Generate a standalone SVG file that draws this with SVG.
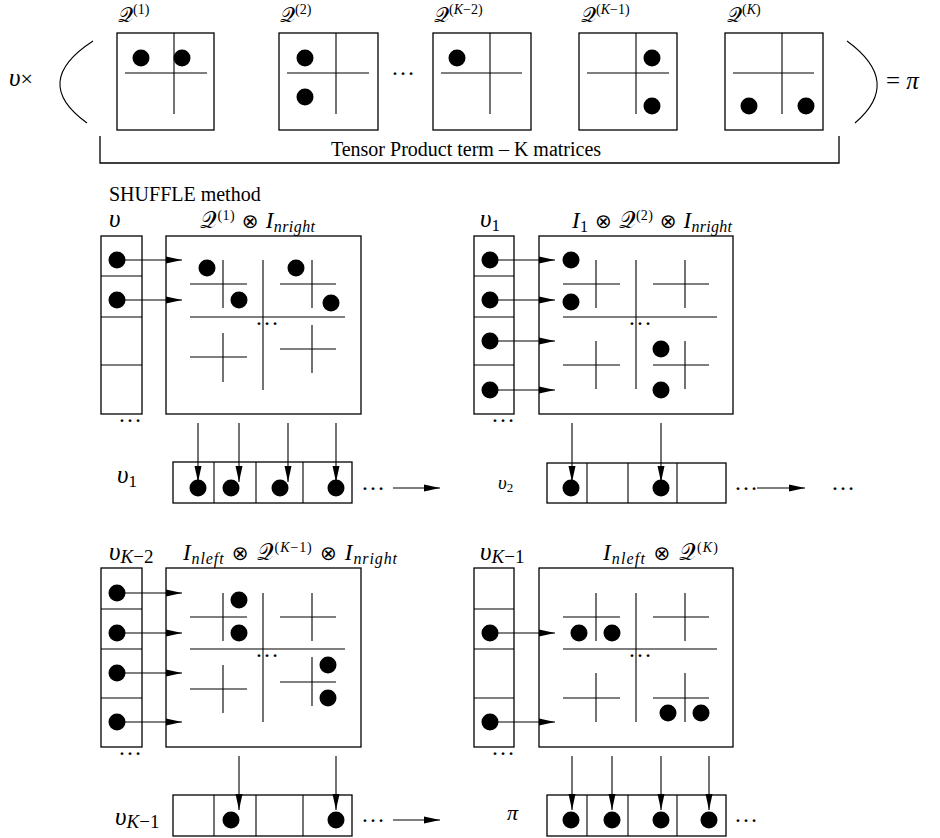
<svg xmlns="http://www.w3.org/2000/svg" width="940" height="838" viewBox="0 0 940 838">
<style>
.box{fill:none;stroke:#000;stroke-width:1.3}
.ln{fill:none;stroke:#000;stroke-width:1.1}
.ar{fill:none;stroke:#000;stroke-width:1.1;marker-end:url(#ah)}
.dot{fill:#000}
.t{font-family:"Liberation Serif",serif;font-size:20px;fill:#000}
.m{font-family:"Liberation Serif","DejaVu Serif",serif;font-size:23px;font-style:italic;fill:#000}
.v{font-family:"Liberation Serif","DejaVu Serif",serif;font-size:25px;font-style:italic;fill:#000}
.q{font-family:"DejaVu Serif","DejaVu Sans","Liberation Serif",serif;font-style:normal;font-size:1em}
.up{font-size:14px;font-style:normal}
.lo{font-size:16px}
.op{font-family:"DejaVu Sans",sans-serif;font-style:normal;font-size:20px}
.el{font-family:"Liberation Serif",serif;font-size:24px;text-anchor:middle;fill:#000}
</style>
<defs>
<marker id="ah" markerUnits="userSpaceOnUse" markerWidth="17" markerHeight="8" refX="16" refY="4" orient="auto"><path d="M0,0.5 L16,4 L0,7.5 z" fill="#000"/></marker>
</defs>

<g id="top-left-paren"><path class="ln" d="M93,41 Q30,82 87,123"/><text class="v" x="9" y="86">υ<tspan style="font-style:normal;font-size:22px">×</tspan></text></g>
<g id="top-right-paren"><path class="ln" d="M847,41 Q903,82 855,123"/><text class="t" x="886" y="89" style="font-size:25px">= <tspan font-style="italic">π</tspan></text></g>

<g id="Q1">
<text class="m" x="118" y="22" style="font-size:21px"><tspan class="q">𝒬</tspan><tspan class="up" dy="-8">(1)</tspan></text>
<rect class="box" x="117" y="33" width="97" height="97"/>
<path class="ln" d="M125,73H207M174,33V114"/>
<circle class="dot" cx="141" cy="58" r="8.5"/><circle class="dot" cx="182" cy="58" r="8.5"/>
</g>
<g id="Q2">
<text class="m" x="280" y="22" style="font-size:21px"><tspan class="q">𝒬</tspan><tspan class="up" dy="-8">(2)</tspan></text>
<rect class="box" x="279" y="33" width="99" height="97"/>
<path class="ln" d="M287,73H369M336,33V114"/>
<circle class="dot" cx="305" cy="58" r="8.5"/><circle class="dot" cx="305" cy="97" r="8.5"/>
</g>
<text class="el" x="403" y="75">…</text>
<g id="QK2">
<text class="m" x="434" y="22" style="font-size:21px"><tspan class="q">𝒬</tspan><tspan class="up" dy="-8">(<tspan font-style="italic">K</tspan>−2)</tspan></text>
<rect class="box" x="433" y="33" width="98" height="97"/>
<path class="ln" d="M441,73H522M490,33V114"/>
<circle class="dot" cx="457" cy="58" r="8.5"/>
</g>
<g id="QK1">
<text class="m" x="581" y="22" style="font-size:21px"><tspan class="q">𝒬</tspan><tspan class="up" dy="-8">(<tspan font-style="italic">K</tspan>−1)</tspan></text>
<rect class="box" x="579" y="33" width="98" height="97"/>
<path class="ln" d="M587,73H669M636,33V114"/>
<circle class="dot" cx="652" cy="58" r="8.5"/><circle class="dot" cx="652" cy="106" r="8.5"/>
</g>
<g id="QK">
<text class="m" x="727" y="22" style="font-size:21px"><tspan class="q">𝒬</tspan><tspan class="up" dy="-8">(<tspan font-style="italic">K</tspan>)</tspan></text>
<rect class="box" x="725" y="33" width="98" height="97"/>
<path class="ln" d="M733,73H814M782,33V114"/>
<circle class="dot" cx="749" cy="106" r="8.5"/><circle class="dot" cx="806" cy="106" r="8.5"/>
</g>
<g id="bracket">
<path class="box" d="M100,136V163H839V136"/>
<text class="t" x="466" y="156" text-anchor="middle">Tensor Product term – K matrices</text>
</g>

<text class="t" x="109" y="201">SHUFFLE method</text>

<!-- Panel 1 -->
<g id="p1-vec">
<text class="v" x="109" y="227">υ</text>
<rect class="box" x="101" y="236" width="41" height="178"/>
<path class="ln" d="M101,276H142M101,317H142M101,365H142"/>
<circle class="dot" cx="117" cy="260" r="8.5"/><circle class="dot" cx="117" cy="300" r="8.5"/>
<text class="el" x="130" y="422">…</text>
</g>
<g id="p1-mat">
<text class="m" x="200" y="228" textLength="115" lengthAdjust="spacing"><tspan class="q">𝒬</tspan><tspan class="up" dy="-8">(1)</tspan><tspan class="op" dy="8"> ⊗ </tspan>I<tspan class="lo" dy="4">nright</tspan></text>
<rect class="box" x="166" y="236" width="195" height="178"/>
<path class="ln" d="M190,317H345M263,260V390M190,284H247M223,260V308M280,284H336M312,260V308M190,357H247M223,333V382M280,349H336M312,325V373"/>
<circle class="dot" cx="207" cy="268" r="8.5"/><circle class="dot" cx="239" cy="300" r="8.5"/><circle class="dot" cx="296" cy="268" r="8.5"/><circle class="dot" cx="331" cy="303" r="8.5"/>
<text class="el" x="267" y="325">…</text>
</g>
<g id="p1-out">
<text class="v" x="117" y="483">υ<tspan class="lo" style="font-style:normal;font-size:17px" dy="4">1</tspan></text>
<rect class="box" x="173" y="462" width="179" height="41"/>
<path class="ln" d="M214,462V503M256,462V503M303,462V503"/>
<circle class="dot" cx="198" cy="488" r="8.5"/><circle class="dot" cx="231" cy="488" r="8.5"/><circle class="dot" cx="280" cy="488" r="8.5"/><circle class="dot" cx="336" cy="488" r="8.5"/>
<text class="el" x="373" y="490">…</text>
</g>

<!-- Panel 2 -->
<g id="p2-vec">
<text class="v" x="480" y="227">υ<tspan class="lo" style="font-style:normal;font-size:17px" dy="4">1</tspan></text>
<rect class="box" x="474" y="236" width="40" height="178"/>
<path class="ln" d="M474,276H514M474,317H514M474,365H514"/>
<circle class="dot" cx="490" cy="260" r="8.5"/><circle class="dot" cx="490" cy="300" r="8.5"/><circle class="dot" cx="490" cy="341" r="8.5"/><circle class="dot" cx="490" cy="390" r="8.5"/>
<text class="el" x="503" y="422">…</text>
</g>
<g id="p2-mat">
<text class="m" x="572" y="228" textLength="160" lengthAdjust="spacing">I<tspan class="lo" style="font-style:normal" dy="4">1</tspan><tspan class="op" dy="-4"> ⊗ </tspan><tspan class="q">𝒬</tspan><tspan class="up" dy="-8">(2)</tspan><tspan class="op" dy="8"> ⊗ </tspan>I<tspan class="lo" dy="4">nright</tspan></text>
<rect class="box" x="539" y="236" width="194" height="178"/>
<path class="ln" d="M563,317H717M636,260V389M563,284H620M596,260V308M653,284H709M685,260V308M563,365H620M596,341V389M653,365H709M685,341V389"/>
<circle class="dot" cx="571" cy="260" r="8.5"/><circle class="dot" cx="571" cy="302" r="8.5"/><circle class="dot" cx="661" cy="349" r="8.5"/><circle class="dot" cx="661" cy="390" r="8.5"/>
<text class="el" x="640" y="325">…</text>
</g>
<g id="p2-out">
<text class="v" x="498" y="489" style="font-size:19px">υ<tspan class="lo" style="font-style:normal;font-size:13px" dy="3">2</tspan></text>
<rect class="box" x="547" y="463" width="179" height="40"/>
<path class="ln" d="M587,463V503M628,463V503M677,463V503"/>
<circle class="dot" cx="571" cy="488" r="8.5"/><circle class="dot" cx="661" cy="488" r="8.5"/>
<text class="el" x="746" y="490">…</text>
<text class="el" x="843" y="490">…</text>
</g>

<!-- Panel 3 -->
<g id="p3-vec">
<text class="v" x="109" y="560">υ<tspan style="font-size:19px" dy="3">K</tspan><tspan style="font-style:normal;font-size:19px">−2</tspan></text>
<rect class="box" x="101" y="568" width="41" height="179"/>
<path class="ln" d="M101,609H142M101,649H142M101,698H142"/>
<circle class="dot" cx="117" cy="593" r="8.5"/><circle class="dot" cx="117" cy="633" r="8.5"/><circle class="dot" cx="117" cy="673" r="8.5"/><circle class="dot" cx="117" cy="722" r="8.5"/>
<text class="el" x="130" y="755">…</text>
</g>
<g id="p3-mat">
<text class="m" x="183" y="560" textLength="214" lengthAdjust="spacing">I<tspan class="lo" dy="4">nleft</tspan><tspan class="op" dy="-4"> ⊗ </tspan><tspan class="q">𝒬</tspan><tspan class="up" dy="-8">(<tspan font-style="italic">K</tspan>−1)</tspan><tspan class="op" dy="8"> ⊗ </tspan>I<tspan class="lo" dy="4">nright</tspan></text>
<rect class="box" x="166" y="568" width="195" height="179"/>
<path class="ln" d="M190,649H345M263,593V722M190,617H247M223,593V641M280,617H336M312,593V641M190,689H247M223,665V713M280,682H336M312,657V706"/>
<circle class="dot" cx="239" cy="600" r="8.5"/><circle class="dot" cx="239" cy="633" r="8.5"/><circle class="dot" cx="328" cy="665" r="8.5"/><circle class="dot" cx="328" cy="698" r="8.5"/>
<text class="el" x="267" y="657">…</text>
</g>
<g id="p3-out">
<text class="v" x="115" y="825">υ<tspan style="font-size:19px" dy="3">K</tspan><tspan style="font-style:normal;font-size:19px">−1</tspan></text>
<rect class="box" x="173" y="795" width="179" height="41"/>
<path class="ln" d="M214,795V836M256,795V836M303,795V836"/>
<circle class="dot" cx="231" cy="820" r="8.5"/><circle class="dot" cx="336" cy="820" r="8.5"/>
<text class="el" x="373" y="822">…</text>
</g>

<!-- Panel 4 -->
<g id="p4-vec">
<text class="v" x="480" y="560">υ<tspan style="font-size:19px" dy="3">K</tspan><tspan style="font-style:normal;font-size:19px">−1</tspan></text>
<rect class="box" x="474" y="568" width="40" height="179"/>
<path class="ln" d="M474,609H514M474,649H514M474,698H514"/>
<circle class="dot" cx="490" cy="633" r="8.5"/><circle class="dot" cx="490" cy="722" r="8.5"/>
<text class="el" x="503" y="755">…</text>
</g>
<g id="p4-mat">
<text class="m" x="603" y="560" textLength="115" lengthAdjust="spacing">I<tspan class="lo" dy="4">nleft</tspan><tspan class="op" dy="-4"> ⊗ </tspan><tspan class="q">𝒬</tspan><tspan class="up" dy="-8">(<tspan font-style="italic">K</tspan>)</tspan></text>
<rect class="box" x="539" y="568" width="194" height="179"/>
<path class="ln" d="M563,649H717M636,593V722M563,617H620M596,593V641M653,617H709M685,593V641M563,698H620M596,673V722M653,698H709M685,673V722"/>
<circle class="dot" cx="579" cy="633" r="8.5"/><circle class="dot" cx="612" cy="633" r="8.5"/><circle class="dot" cx="668" cy="713" r="8.5"/><circle class="dot" cx="701" cy="713" r="8.5"/>
<text class="el" x="640" y="657">…</text>
</g>
<g id="p4-out">
<text class="v" x="507" y="820" style="font-size:22px">π</text>
<rect class="box" x="547" y="795" width="179" height="41"/>
<path class="ln" d="M587,795V836M628,795V836M677,795V836"/>
<circle class="dot" cx="571" cy="820" r="8.5"/><circle class="dot" cx="612" cy="820" r="8.5"/><circle class="dot" cx="661" cy="820" r="8.5"/><circle class="dot" cx="709" cy="820" r="8.5"/>
<text class="el" x="746" y="822">…</text>
</g>

<g id="connectors">
<path class="ar" d="M117,260H182"/><path class="ar" d="M117,300H182"/>
<path class="ar" d="M198,423V482"/><path class="ar" d="M239,423V482"/><path class="ar" d="M288,423V482"/><path class="ar" d="M336,423V482"/>
<path class="ar" d="M393,488H440"/>
<path class="ar" d="M490,260H555"/><path class="ar" d="M490,300H555"/><path class="ar" d="M490,341H555"/><path class="ar" d="M490,390H555"/>
<path class="ar" d="M572,423V482"/><path class="ar" d="M661,423V482"/>
<path class="ar" d="M757,488H805"/>
<path class="ar" d="M117,593H182"/><path class="ar" d="M117,633H182"/><path class="ar" d="M117,673H182"/><path class="ar" d="M117,722H182"/>
<path class="ar" d="M239,756V810"/><path class="ar" d="M336,756V810"/>
<path class="ar" d="M393,820H440"/>
<path class="ar" d="M490,633H555"/><path class="ar" d="M490,722H555"/>
<path class="ar" d="M572,756V810"/><path class="ar" d="M612,756V810"/><path class="ar" d="M661,756V810"/><path class="ar" d="M709,756V810"/>
</g>
</svg>
